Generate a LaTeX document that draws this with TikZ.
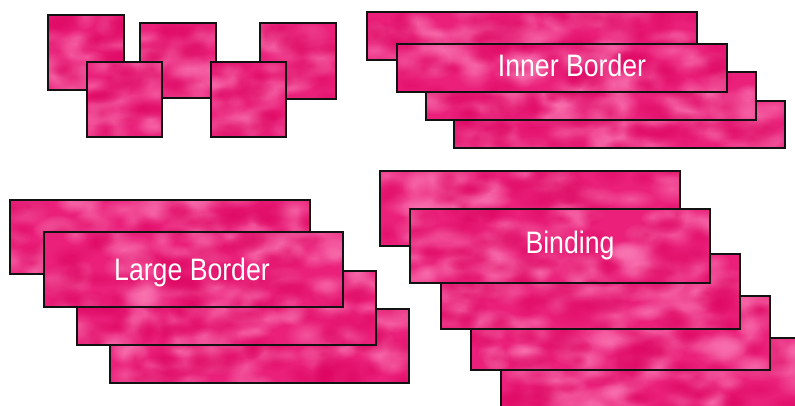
\documentclass[tikz,border=0pt]{standalone}
\usepackage{fontspec}
\usetikzlibrary{calc,fadings}
\newfontfamily\lblfont{Liberation Sans}[FakeStretch=0.86]
\definecolor{pinkbase}{RGB}{234,32,122}
\definecolor{pinklight}{RGB}{250,120,180}
\definecolor{pinkdark}{RGB}{222,6,98}
\definecolor{edgecol}{RGB}{18,18,18}
\tikzfading[name=softblob, inner color=transparent!0, outer color=transparent!100]
\tikzset{
  pinkbox/.style={rectangle, inner sep=0pt, outer sep=0pt, fill=pinkbase, draw=none},
  boxedge/.style={draw=edgecol, line width=1.8pt},
  blob/.style={path fading=softblob},
  lbl/.style={text=white, font=\lblfont\fontsize{31}{31}\selectfont, inner sep=0pt, anchor=base}
}
\pgfmathsetseed{4242}
% name, left x, top y, width, height
\newcommand\pinkpiece[5]{%
  \node[pinkbox, minimum width=#4pt, minimum height=#5pt, anchor=north west] (#1) at (#2,#3) {};
  \begin{scope}
    \clip (#1.south west) rectangle (#1.north east);
    \pgfmathtruncatemacro\nblob{6+(#4/30)*(#5/15)}
    \foreach \k in {1,...,\nblob}{
      \pgfmathsetmacro\rxa{12+rnd*18}\pgfmathsetmacro\rya{8+rnd*10}
      \fill[pinklight, blob, fill opacity=0.6] ($(#1.north west)+({rnd*#4},{rnd*#5})$) ellipse ({\rxa pt} and {\rya pt});
    }
    \foreach \k in {1,...,\nblob}{
      \pgfmathsetmacro\rxa{10+rnd*16}\pgfmathsetmacro\rya{7+rnd*9}
      \fill[pinkdark, blob, fill opacity=0.55] ($(#1.north west)+({rnd*#4},{rnd*#5})$) ellipse ({\rxa pt} and {\rya pt});
    }
  \end{scope}
  \draw[boxedge] (#1.south west) rectangle (#1.north east);
}
\begin{document}
\begin{tikzpicture}[x=1pt, y=-1pt]
\clip (0,0) rectangle (795,406);
% small squares
\pinkpiece{sqa}{48}{15}{76}{75}
\pinkpiece{sqb}{140}{23}{76}{75}
\pinkpiece{sqc}{260}{23}{76}{76}
\pinkpiece{sqd}{87}{62}{75}{75}
\pinkpiece{sqe}{211}{62}{75}{75}
% inner border group
\pinkpiece{ibd}{454}{101}{331}{47}
\pinkpiece{ibc}{426}{72}{330}{48}
\pinkpiece{iba}{367}{12}{330}{48}
\pinkpiece{ibb}{397}{44}{330}{48}
\node[lbl] (tib) at (572,76.7) {Inner Border};
% large border group
\pinkpiece{lbd}{110}{309}{299}{74}
\pinkpiece{lbc}{77}{271}{299}{74}
\pinkpiece{lba}{10}{200}{300}{74}
\pinkpiece{lbb}{44}{232}{299}{75}
\node[lbl] (tlb) at (192,280) {Large Border};
% binding group
\pinkpiece{bde}{501}{338}{300}{74}
\pinkpiece{bdd}{471}{296}{299}{74}
\pinkpiece{bdc}{441}{254}{299}{75}
\pinkpiece{bda}{380}{171}{300}{75}
\pinkpiece{bdb}{410}{209}{300}{74}
\node[lbl] (tbd) at (570,253.3) {Binding};
\end{tikzpicture}
\end{document}
